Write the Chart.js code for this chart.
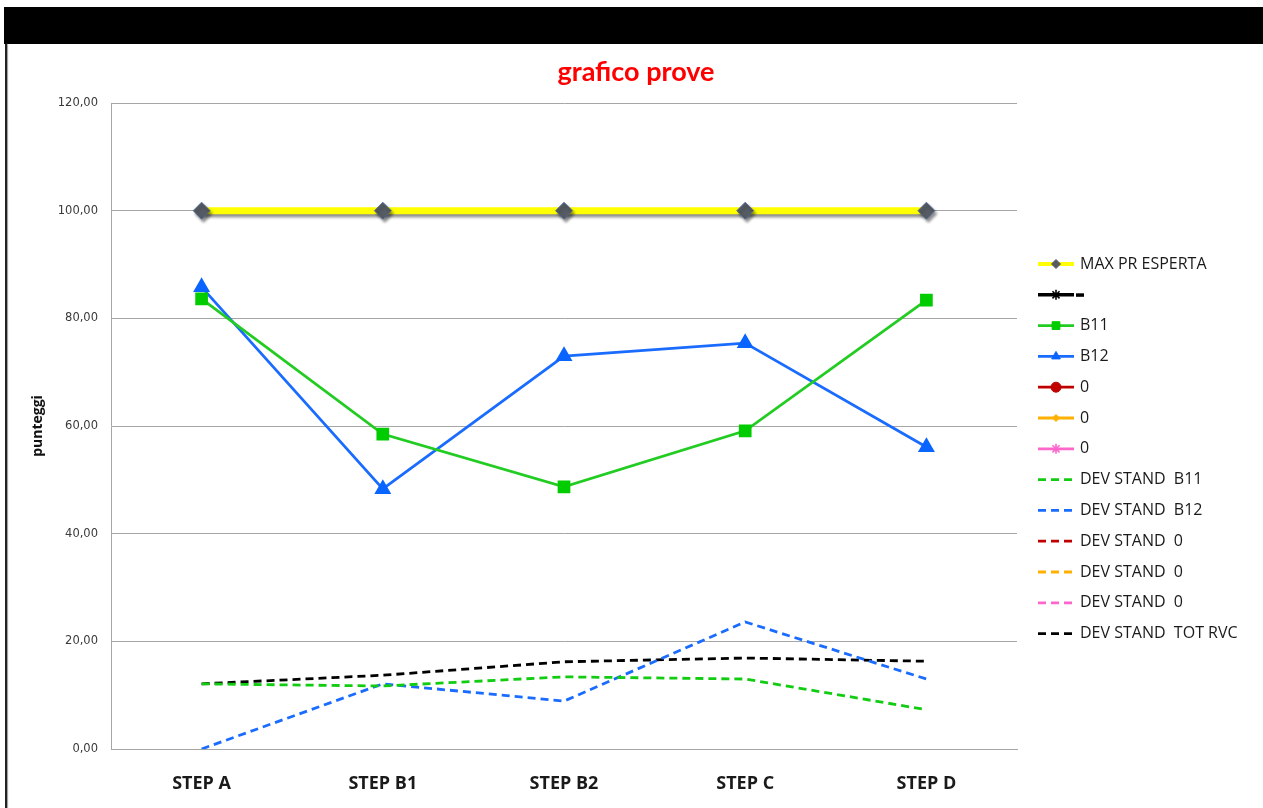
<!DOCTYPE html>
<html>
<head>
<meta charset="utf-8">
<script src="https://cdn.jsdelivr.net/npm/chart.js@4/dist/chart.umd.min.js"></script>
<style>
  html, body { margin: 0; padding: 0; background: #fff; }
  #wrap { position: relative; width: 1263px; height: 808px; overflow: hidden; }
  #barra { position: absolute; left: 4px; top: 7px; width: 1259px; height: 37px; background: #000; }
  #bordo { position: absolute; left: 5px; top: 44px; width: 2px; height: 764px; background: #222; box-shadow: 1px 0 1px #999; }
  canvas { position: absolute; left: 0; top: 0; }
</style>
</head>
<body>
<div id="wrap">
  <canvas id="grafico" width="1263" height="808"></canvas>
  <div id="barra"></div>
  <div id="bordo"></div>
</div>
<script>
const steps = ['STEP A', 'STEP B1', 'STEP B2', 'STEP C', 'STEP D'];
const maxPrEsperta = [100, 100, 100, 100, 100];
const serieVuota = [null, null, null, null, null];
const b11 = [83.6, 58.5, 48.7, 59.1, 83.4];
const b12 = [85.8, 48.3, 73.0, 75.4, 56.1];
const devB11 = [12.1, 11.7, 13.4, 13.0, 7.3];
const devB12 = [0, 12.1, 8.9, 23.6, 13.0];
const devTotRvc = [12.1, 13.7, 16.2, 16.9, 16.3];
const yMin = 0, yMax = 120, yStep = 20;
const titolo = 'grafico prove';

const tratteggio = [8, 5];

function serie(label, data, colore, extra) {
  return Object.assign({
    label: label,
    data: data,
    borderColor: colore,
    backgroundColor: colore,
    borderWidth: 2.8,
    pointRadius: 0,
    tension: 0,
    spanGaps: false
  }, extra || {});
}

const datasets = [
  serie('MAX PR ESPERTA', maxPrEsperta, '#ffff00', {
    borderWidth: 7, pointStyle: 'rectRot', pointRadius: 8.5,
    pointBackgroundColor: '#565b63', pointBorderColor: '#4a6a9a', pointBorderWidth: 0.8,
    legendMarker: '#565b63', legendRadius: 4.5
  }),
  serie('-', serieVuota, '#000000', { pointStyle: 'star', legendMarker: '#000000', legendRadius: 5, legendStrong: true }),
  serie('B11', b11, '#22cc22', {
    pointStyle: 'rect', pointRadius: 7, pointBackgroundColor: '#00cc00', pointBorderColor: '#00cc00',
    legendMarker: '#00cc00', legendRadius: 5.5
  }),
  serie('B12', b12, '#1a6cff', {
    pointStyle: 'triangle', pointRadius: 7, pointBackgroundColor: '#0a64ff', pointBorderColor: '#0a64ff',
    legendMarker: '#0a64ff', legendRadius: 5
  }),
  serie('0', serieVuota, '#c00000', { pointStyle: 'circle', legendMarker: '#c00000', legendRadius: 5 }),
  serie('0', serieVuota, '#ffb000', { pointStyle: 'rectRot', legendMarker: '#ffb000', legendRadius: 3.5 }),
  serie('0', serieVuota, '#ff66cc', { pointStyle: 'star', legendMarker: '#ff66cc', legendRadius: 5 }),
  serie('DEV STAND  B11', devB11, '#11cc11', { borderDash: tratteggio }),
  serie('DEV STAND  B12', devB12, '#1a6cff', { borderDash: tratteggio }),
  serie('DEV STAND  0', serieVuota, '#c00000', { borderDash: tratteggio }),
  serie('DEV STAND  0', serieVuota, '#ffb000', { borderDash: tratteggio }),
  serie('DEV STAND  0', serieVuota, '#ff66cc', { borderDash: tratteggio }),
  serie('DEV STAND  TOT RVC', devTotRvc, '#000000', { borderDash: tratteggio })
];

// ombra sotto la linea gialla e i rombi
const ombra = {
  id: 'ombra',
  beforeDatasetDraw(chart, args) {
    if (args.index !== 0) return;
    const ctx = chart.ctx;
    ctx.save();
    ctx.shadowColor = 'rgba(0,0,0,0.45)';
    ctx.shadowOffsetX = 2;
    ctx.shadowOffsetY = 3;
    ctx.shadowBlur = 3;
  },
  afterDatasetDraw(chart, args) {
    if (args.index !== 0) return;
    chart.ctx.restore();
  }
};

// titolo centrato sull'intera pagina, non solo sull'area del grafico
const titoloPagina = {
  id: 'titoloPagina',
  afterDraw(chart) {
    const ctx = chart.ctx;
    ctx.save();
    ctx.fillStyle = '#ff0000';
    ctx.font = 'bold 27px Lato, sans-serif';
    ctx.textAlign = 'center';
    ctx.textBaseline = 'middle';
    ctx.fillText(titolo, 636, 72);
    ctx.restore();
  }
};

// legenda a destra: linea + marcatore + testo
const legenda = {
  id: 'legenda',
  afterDraw(chart) {
    const ctx = chart.ctx;
    const x0 = 1038, x1 = 1074, xt = 1080;
    let y = 264;
    const passo = 30.8;
    chart.data.datasets.forEach(ds => {
      ctx.save();
      ctx.strokeStyle = ds.borderColor;
      ctx.lineWidth = ds.legendStrong ? 3.5 : (ds.borderWidth > 3 ? 4 : 2.8);
      if (ds.borderDash) ctx.setLineDash([8, 5]);
      ctx.beginPath();
      ctx.moveTo(x0, y);
      ctx.lineTo(x1, y);
      ctx.stroke();
      ctx.setLineDash([]);
      if (ds.legendMarker) {
        ctx.fillStyle = ds.legendMarker;
        ctx.strokeStyle = ds.legendMarker;
        ctx.lineWidth = ds.pointStyle === 'star' ? 1.6 : 1;
        Chart.helpers.drawPoint(ctx, {
          pointStyle: ds.pointStyle, radius: ds.legendRadius, rotation: 0, borderWidth: 1
        }, (x0 + x1) / 2, y);
      }
      ctx.fillStyle = '#1a1a1a';
      ctx.font = '16px "Open Sans", sans-serif';
      ctx.textBaseline = 'middle';
      ctx.textAlign = 'left';
      if (ds.label === '-') {
        ctx.fillStyle = '#000';
        ctx.fillRect(xt - 4, y - 1.5, 8, 3.5);
      } else {
        ctx.fillText(ds.label, xt, y);
      }
      ctx.restore();
      y += passo;
    });
  }
};

new Chart(document.getElementById('grafico').getContext('2d'), {
  type: 'line',
  data: { labels: steps, datasets: datasets },
  options: {
    responsive: false,
    animation: false,
    events: [],
    layout: { padding: { left: 12, right: 246, top: 103, bottom: 0 } },
    plugins: {
      legend: { display: false },
      tooltip: { enabled: false },
      title: { display: false }
    },
    scales: {
      x: {
        offset: true,
        grid: { display: false, drawTicks: false },
        border: { display: true, color: '#a6a6a6' },
        ticks: {
          color: '#1a1a1a',
          padding: 24,
          font: { family: '"Open Sans", sans-serif', size: 18, weight: 'bold' }
        },
        afterFit(scale) { scale.height = 59; }
      },
      y: {
        min: yMin,
        max: yMax,
        ticks: {
          stepSize: yStep,
          padding: 13,
          color: '#3a3a3a',
          font: { family: '"DejaVu Sans", sans-serif', size: 11.5 },
          callback: v => v.toFixed(2).replace('.', ',')
        },
        grid: { color: '#a6a6a6', lineWidth: 1, drawTicks: false },
        border: { display: true, color: '#a6a6a6' },
        title: {
          display: true,
          text: 'punteggi',
          color: '#111',
          font: { family: '"Open Sans", sans-serif', size: 14, weight: 'bold' },
          padding: { top: 18, bottom: 0 }
        },
        afterFit(scale) { scale.width = 99; }
      }
    }
  },
  plugins: [ombra, titoloPagina, legenda]
});
</script>
</body>
</html>
